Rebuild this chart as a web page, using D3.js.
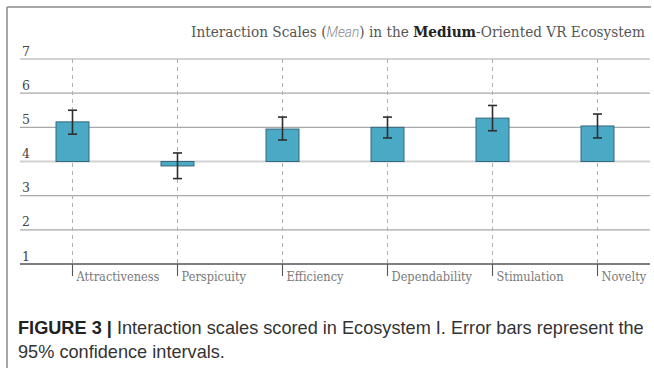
<!DOCTYPE html>
<html>
<head>
<meta charset="utf-8">
<script src="https://cdn.jsdelivr.net/npm/d3@7"></script>
<style>
  html, body { margin: 0; padding: 0; background: #fff; }
  svg { display: block; }
</style>
</head>
<body>
<svg id="chart" width="654" height="368"></svg>
<script>
// UEQ interaction scales: mean score and 95% confidence interval bounds
const categories = ["Attractiveness", "Perspicuity", "Efficiency", "Dependability", "Stimulation", "Novelty"];
const means      = [5.16, 3.87, 4.95, 5.00, 5.27, 5.04];
const ciLow      = [4.80, 3.50, 4.63, 4.69, 4.90, 4.69];
const ciHigh     = [5.50, 4.25, 5.30, 5.30, 5.64, 5.39];
const yTicks     = [1, 2, 3, 4, 5, 6, 7];
const baselineValue = 4;

const svg = d3.select("#chart");
const slab = "'DejaVu Serif', 'Liberation Serif', serif";
const sans = "'Liberation Sans', Arial, Helvetica, sans-serif";

// panel frame (top and left rules)
svg.append("line").attr("x1", 7).attr("x2", 7).attr("y1", 7).attr("y2", 368)
  .attr("stroke", "#8a8a8a").attr("stroke-width", 1.5);
svg.append("line").attr("x1", 7).attr("x2", 651).attr("y1", 7).attr("y2", 7)
  .attr("stroke", "#8a8a8a").attr("stroke-width", 1.5);

const x = d3.scaleBand().domain(categories).range([20, 650]);
const y = d3.scaleLinear().domain([1, 7]).range([264, 59]);
const cx = d => x(d) + x.bandwidth() / 2;

// squeeze a text element horizontally to a target width
function fitWidth(sel, x0, target) {
  const w = sel.node().getComputedTextLength();
  const s = target / w;
  sel.attr("transform", `translate(${x0},0) scale(${s},1) translate(${-x0},0)`);
  return s;
}

// title
const title = svg.append("text").attr("x", 191).attr("y", 37)
  .attr("font-family", slab).attr("font-size", 14.2).attr("fill", "#555");
title.append("tspan").text("Interaction Scales (");
title.append("tspan").text("Mean").attr("font-style", "italic").attr("fill", "#888")
  .attr("font-family", "Roboto, 'Open Sans', sans-serif").attr("font-weight", 300);
title.append("tspan").text(") in the ");
title.append("tspan").text("Medium").attr("font-weight", "bold").attr("fill", "#222");
title.append("tspan").text("-Oriented VR Ecosystem");
fitWidth(title, 191, 454);

// horizontal gridlines
const grid = svg.append("g");
grid.selectAll("line").data(yTicks.filter(t => t !== 1)).join("line")
  .attr("x1", 20).attr("x2", 650)
  .attr("y1", d => y(d)).attr("y2", d => y(d))
  .attr("stroke", d => d === baselineValue ? "#d2d2d2" : "#a8a8a8")
  .attr("stroke-width", d => d === baselineValue ? 2 : 1.1);

// y tick labels sitting above each rule
svg.append("g").selectAll("text").data(yTicks).join("text")
  .attr("x", 22).attr("y", d => y(d) - 3.5)
  .attr("font-family", slab).attr("font-size", 12.5).attr("fill", "#444")
  .text(d => d);

// dashed category guides
svg.append("g").selectAll("line").data(categories).join("line")
  .attr("x1", cx).attr("x2", cx)
  .attr("y1", y(7)).attr("y2", y(1))
  .attr("stroke", "#b0b0b0").attr("stroke-width", 1)
  .attr("stroke-dasharray", "4,4");

// bars drawn from the scale midpoint (4)
svg.append("g").selectAll("rect").data(categories).join("rect")
  .attr("x", d => cx(d) - 16.5)
  .attr("width", 33)
  .attr("y", (d, i) => Math.min(y(means[i]), y(baselineValue)))
  .attr("height", (d, i) => Math.abs(y(means[i]) - y(baselineValue)))
  .attr("fill", "#4aaac6").attr("stroke", "#35677a").attr("stroke-width", 1);

// error bars (95% CI)
const err = svg.append("g").attr("stroke", "#2e2e2e").attr("stroke-width", 1.6);
categories.forEach((c, i) => {
  const xc = cx(c);
  err.append("line").attr("x1", xc).attr("x2", xc).attr("y1", y(ciHigh[i])).attr("y2", y(ciLow[i]));
  err.append("line").attr("x1", xc - 4.5).attr("x2", xc + 4.5).attr("y1", y(ciHigh[i])).attr("y2", y(ciHigh[i]));
  err.append("line").attr("x1", xc - 4.5).attr("x2", xc + 4.5).attr("y1", y(ciLow[i])).attr("y2", y(ciLow[i]));
});

// category axis
svg.append("line").attr("x1", 20).attr("x2", 650).attr("y1", y(1)).attr("y2", y(1))
  .attr("stroke", "#555").attr("stroke-width", 1.4);
svg.append("g").selectAll("line").data(categories).join("line")
  .attr("x1", cx).attr("x2", cx).attr("y1", y(1)).attr("y2", y(1) + 12)
  .attr("stroke", "#555").attr("stroke-width", 1.1);
const catLabels = svg.append("g").selectAll("text").data(categories).join("text")
  .attr("x", d => cx(d) + 4).attr("y", 281.5)
  .attr("font-family", slab).attr("font-size", 13).attr("fill", "#7a7a7a")
  .text(d => d);
const refW = catLabels.filter(d => d === "Attractiveness").node().getComputedTextLength();
const catScale = 83 / refW;
catLabels.attr("transform", d => {
  const x0 = cx(d) + 4;
  return `translate(${x0},0) scale(${catScale},1) translate(${-x0},0)`;
});

// caption
const cap1 = svg.append("text").attr("x", 18).attr("y", 334)
  .attr("font-family", sans).attr("font-size", 17.5).attr("fill", "#222");
cap1.append("tspan").text("FIGURE 3 | ").attr("font-weight", "bold");
cap1.append("tspan").text("Interaction scales scored in Ecosystem I. Error bars represent the").attr("fill", "#333");
const capScale = fitWidth(cap1, 18, 626);
svg.append("text").attr("x", 18).attr("y", 358)
  .attr("font-family", sans).attr("font-size", 17.5).attr("fill", "#333")
  .attr("transform", `translate(18,0) scale(${capScale},1) translate(-18,0)`)
  .text("95% confidence intervals.");
</script>
</body>
</html>
